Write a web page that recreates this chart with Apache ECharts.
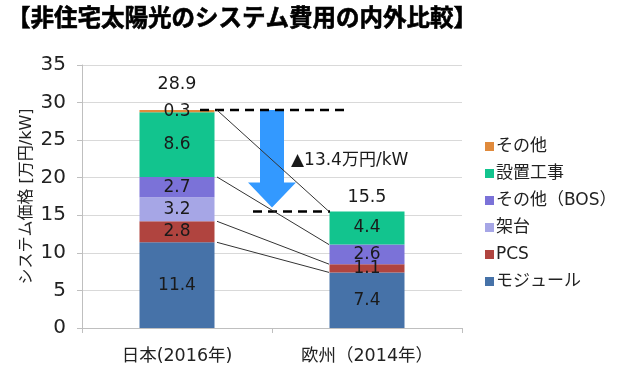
<!DOCTYPE html>
<html>
<head>
<meta charset="utf-8">
<script src="https://cdn.jsdelivr.net/npm/echarts@6/dist/echarts.min.js"></script>
<style>html,body{margin:0;padding:0;background:#fff}#c{width:620px;height:379px}</style>
</head>
<body>
<div id="c"></div>
<script>
// ---- data ----
const categories = ['日本(2016年)', '欧州（2014年）'];
const seriesNames = ['モジュール', 'PCS', '架台', 'その他（BOS）', '設置工事', 'その他'];
const moduleVals = [11.4, 7.4];
const pcsVals = [2.8, 1.1];
const rackVals = [3.2, 0];
const bosVals = [2.7, 2.6];
const installVals = [8.6, 4.4];
const otherVals = [0.3, 0];
const totals = [28.9, 15.5];
const diffLabel = '▲13.4万円/kW';
const yTicks = [0, 5, 10, 15, 20, 25, 30, 35];
const titleText = '【非住宅太陽光のシステム費用の内外比較】';
const yName = 'システム価格 [万円/kW]';

const colors = ['#4672A8', '#B0443F', '#A6A6E6', '#7B72D8', '#12C48E', '#E08A3C'];
const FONT = "'DejaVu Sans', 'Noto Sans CJK JP', sans-serif";
const allVals = [moduleVals, pcsVals, rackVals, bosVals, installVals, otherVals];

// cumulative tops per stack level
function cum(catIdx, upto) { let s = 0; for (let i = 0; i <= upto; i++) s += allVals[i][catIdx]; return +s.toFixed(2); }
const connectLevels = [0, 1, 3, 5].map(k => [cum(0, k), cum(1, k)]);
const topPair = [[cum(0, 5), cum(1, 5)]];

const chart = echarts.init(document.getElementById('c'));

const barSeries = seriesNames.map((n, i) => ({
  name: n, type: 'bar', stack: 'total', barWidth: 75,
  itemStyle: { color: colors[i] },
  data: allVals[i],
  label: {
    show: true, position: 'inside', fontSize: 17, color: '#1a1a1a', fontFamily: FONT,
    formatter: p => p.value ? p.value.toFixed(1) : ''
  },
  z: 2
}));

const totalOffsets = [[0, -26], [0, -14]];

const option = {
  animation: false,
  textStyle: { fontFamily: FONT },
  title: {
    text: titleText, left: 2, top: 3,
    textStyle: { fontSize: 23.5, fontWeight: 'bold', color: '#000', fontFamily: FONT,
      textBorderColor: '#000', textBorderWidth: 0.6 }
  },
  legend: {
    orient: 'vertical', left: 480, top: 133,
    itemWidth: 9, itemHeight: 9, itemGap: 10,
    data: seriesNames.slice().reverse(),
    textStyle: { fontSize: 17, color: '#222', fontFamily: FONT, padding: [0, 0, 0, -3] },
    icon: 'rect'
  },
  grid: { left: 82, right: 158, top: 65, bottom: 51 },
  xAxis: {
    type: 'category', data: categories,
    axisLine: { lineStyle: { color: '#bfbfbf' } },
    axisTick: { show: true, length: 5, lineStyle: { color: '#bfbfbf' } },
    axisLabel: { fontSize: 17.5, color: '#222', margin: 20, fontFamily: FONT }
  },
  yAxis: {
    type: 'value', min: yTicks[0], max: yTicks[yTicks.length - 1], interval: 5,
    name: yName, nameLocation: 'middle', nameGap: 47, nameMoveOverlap: false,
    nameTextStyle: { fontSize: 16, color: '#222', fontFamily: FONT },
    axisLine: { show: true, lineStyle: { color: '#bfbfbf' } },
    axisTick: { show: true, length: 5, lineStyle: { color: '#bfbfbf' } },
    axisLabel: { fontSize: 20, color: '#222', margin: 16, fontFamily: FONT },
    splitLine: { lineStyle: { color: '#d9d9d9' } }
  },
  series: barSeries.concat([
    {
      name: 'totals', type: 'scatter', symbolSize: 0, z: 5,
      itemStyle: { opacity: 1 },
      data: totals.map((v, i) => ({
        value: v,
        label: { offset: totalOffsets[i], color: '#1a1a1a' }
      })),
      label: { show: true, position: 'inside', fontSize: 17.5, color: '#1a1a1a', fontFamily: FONT,
        formatter: p => p.value.toFixed(1) },
      tooltip: { show: false }
    },
    {
      name: 'arrow', type: 'custom', z: 4,
      data: topPair,
      renderItem: function (params, api) {
        const a = api.coord([0, api.value(0)]);
        const b = api.coord([1, api.value(1)]);
        const mx = (a[0] + b[0]) / 2;
        const tip = b[1] - 4, headTop = tip - 25;
        return {
          type: 'group', children: [
            { type: 'polygon', shape: { points: [
              [mx - 12, a[1]], [mx + 12, a[1]], [mx + 12, headTop], [mx + 24, headTop],
              [mx, tip], [mx - 24, headTop], [mx - 12, headTop]] },
              style: { fill: '#3399FF' } },
            { type: 'line', shape: { x1: a[0] + 23, y1: a[1], x2: b[0] - 17, y2: a[1] },
              style: { stroke: '#000', lineWidth: 2.5, lineDash: [9, 6] } },
            { type: 'line', shape: { x1: mx - 19, y1: b[1], x2: b[0] - 37, y2: b[1] },
              style: { stroke: '#000', lineWidth: 2.5, lineDash: [9, 6] } },
            { type: 'text', x: mx + 19, y: (a[1] + b[1]) / 2,
              style: { text: diffLabel, fontSize: 17, fontFamily: FONT, fill: '#1a1a1a',
                verticalAlign: 'middle', align: 'left' } }
          ]
        };
      }
    },
    {
      name: 'connectors', type: 'custom', z: 6,
      data: connectLevels,
      renderItem: function (params, api) {
        const a = api.coord([0, api.value(0)]);
        const b = api.coord([1, api.value(1)]);
        return { type: 'line', shape: { x1: a[0] + 40, y1: a[1], x2: b[0] - 38, y2: b[1] },
          style: { stroke: '#333', lineWidth: 1 } };
      }
    }
  ])
};
chart.setOption(option);
</script>
</body>
</html>
